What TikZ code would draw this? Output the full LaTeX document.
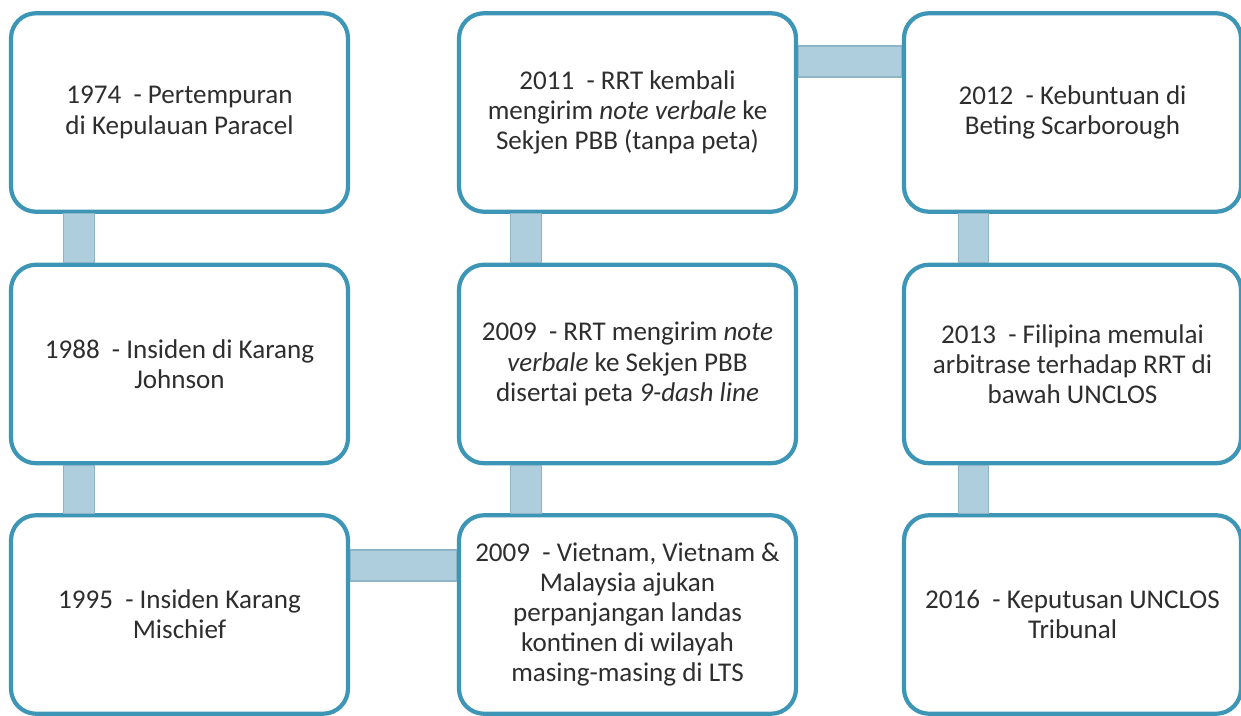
\documentclass[tikz,border=0pt]{standalone}
\usepackage{fontspec}
\setmainfont{Carlito}
\usepackage{tikz}

\definecolor{boxline}{RGB}{62,150,182}
\definecolor{barfill}{RGB}{174,206,221}
\definecolor{barline}{RGB}{142,180,199}

\begin{document}
\begin{tikzpicture}[
				event box/.style={
					draw=boxline,
					line width=2.4pt,
					rounded corners=0.5cm,
					align=center,
					minimum width=6.74cm,
					minimum height=3.97cm,
					font=\fontsize{15.4}{17.2}\selectfont,
					text=black!82,
					fill=white
				},
				link bar/.style={
					draw=barline,
					line width=0.6pt,
					fill=barfill
				}
				]
				\useasboundingbox (0,0) rectangle (24.82,14.32);
				
				% left column
				\node[event box] (node1) at (3.59,12.07)
				{1974~ - Pertempuran\\di Kepulauan Paracel};
				
				\node[event box] (node2) at (3.59,7.04)
				{1988~ - Insiden di Karang\\Johnson};
				
				\node[event box] (node3) at (3.59,2.03)
				{1995~ - Insiden Karang\\Mischief};
				
				% middle column
				\node[event box] (node4) at (12.55,12.07)
				{2011~ - RRT kembali\\mengirim \textit{note verbale} ke\\Sekjen PBB (tanpa peta)};
				
				\node[event box] (node5) at (12.55,7.04)
				{2009~ - RRT mengirim \textit{note}\\\textit{verbale} ke Sekjen PBB\\disertai peta \textit{9-dash line}};
				
				\node[event box] (node6) at (12.55,2.03)
				{2009~ - Vietnam, Vietnam \&\\Malaysia ajukan\\perpanjangan landas\\kontinen di wilayah\\masing-masing di LTS};
				
				% right column
				\node[event box] (node7) at (21.45,12.07)
				{2012~ - Kebuntuan di\\Beting Scarborough};
				
				\node[event box] (node8) at (21.45,7.04)
				{2013~ - Filipina memulai\\arbitrase terhadap RRT di\\bawah UNCLOS};
				
				\node[event box] (node9) at (21.45,2.03)
				{2016~ - Keputusan UNCLOS\\Tribunal};
				
				
				\draw[link bar] ([xshift=-2.32cm]node1.south) rectangle ([xshift=-1.70cm]node2.north);
				\draw[link bar] ([xshift=-2.32cm]node2.south) rectangle ([xshift=-1.70cm]node3.north);
				\draw[link bar] ([yshift=0.67cm]node3.east) rectangle ([yshift=1.29cm]node6.west);
				\draw[link bar] ([xshift=-2.34cm]node5.south) rectangle ([xshift=-1.72cm]node6.north);
				\draw[link bar] ([xshift=-2.34cm]node4.south) rectangle ([xshift=-1.72cm]node5.north);
				\draw[link bar] ([yshift=0.71cm]node4.east) rectangle ([yshift=1.33cm]node7.west);
				\draw[link bar] ([xshift=-2.28cm]node7.south) rectangle ([xshift=-1.68cm]node8.north);
				\draw[link bar] ([xshift=-2.28cm]node8.south) rectangle ([xshift=-1.68cm]node9.north);
				
			\end{tikzpicture}
\end{document}
